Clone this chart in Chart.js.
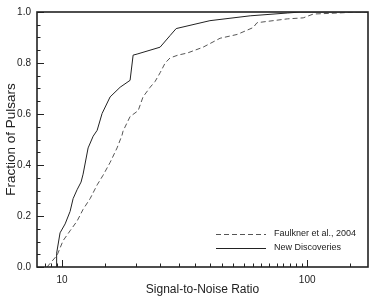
<!DOCTYPE html>
<html>
<head>
<meta charset="utf-8">
<script src="https://cdn.jsdelivr.net/npm/chart.js@4"></script>
<style>
  html, body { margin: 0; padding: 0; background: #fff; }
  #wrap { width: 382px; height: 305px; }
</style>
</head>
<body>
<div id="wrap"><canvas id="snrChart" width="382" height="305"></canvas></div>
<script>
// New Discoveries (solid)
let ndSnr  = [9.45, 9.5, 9.81, 10.29, 10.78, 11.09, 11.51, 11.95, 12.18, 12.77, 13.39, 13.9, 14.56, 15.7, 17.25, 18.94, 19.49, 20.23, 25.1, 27.6, 29.2, 40.1, 58.5, 82.9, 93.6, 177];
let ndFrac = [0, 0.054, 0.134, 0.169, 0.218, 0.268, 0.303, 0.333, 0.364, 0.467, 0.513, 0.536, 0.602, 0.667, 0.705, 0.732, 0.831, 0.835, 0.862, 0.908, 0.935, 0.966, 0.985, 0.996, 1.0, 1.0];

// Faulkner et al., 2004 (dashed)
let fkSnr  = [8.68, 9.54, 10.09, 10.78, 11.51, 12.18, 13.01, 13.9, 14.7, 15.7, 16.76, 17.56, 17.73, 18.94, 20.43, 21.39, 22.87, 23.97, 25.12, 26.33, 27.58, 29.73, 32.4, 37.6, 44.1, 51.8, 60.2, 62.4, 82.9, 96.3, 105.9, 132.8, 160, 177];
let fkFrac = [0, 0.046, 0.103, 0.142, 0.18, 0.226, 0.268, 0.322, 0.36, 0.41, 0.467, 0.517, 0.533, 0.59, 0.613, 0.667, 0.705, 0.728, 0.762, 0.80, 0.82, 0.831, 0.839, 0.862, 0.897, 0.912, 0.939, 0.958, 0.973, 0.977, 0.992, 0.996, 1.0, 1.0];

let xMajor = [10, 100];
let xMinor = [8.5, 9, 9.5, 15, 20, 25, 30, 35, 40, 45, 50, 55, 60, 65, 70, 75, 80, 85, 90, 95, 150];

const FONT = "'Liberation Sans', Arial, sans-serif";
const INK = '#222';

function pts(xs, ys) { return xs.map((x, i) => ({x: x, y: ys[i]})); }

// inward ticks, frame and legend
const decor = {
  id: 'decor',
  afterDatasetsDraw(chart) {
    const {ctx, chartArea: a, scales: {x, y}} = chart;
    ctx.save();
    ctx.strokeStyle = INK;
    ctx.lineWidth = 1;
    ctx.beginPath();
    xMajor.forEach(v => { const p = Math.round(x.getPixelForValue(v)) + 0.5; ctx.moveTo(p, a.bottom); ctx.lineTo(p, a.bottom - 7); });
    xMinor.forEach(v => { const p = Math.round(x.getPixelForValue(v)) + 0.5; ctx.moveTo(p, a.bottom); ctx.lineTo(p, a.bottom - 3.5); });
    for (let k = 0; k <= 20; k++) {
      const v = k * 0.05;
      const p = Math.round(y.getPixelForValue(v)) + 0.5;
      ctx.moveTo(a.left, p); ctx.lineTo(a.left + (k % 4 === 0 ? 7 : 3.5), p);
    }
    ctx.stroke();

    ctx.lineWidth = 1.6;
    ctx.strokeRect(a.left, a.top, a.right - a.left, a.bottom - a.top);

    // legend
    ctx.lineWidth = 1;
    ctx.strokeStyle = '#555';
    ctx.setLineDash([5, 3]);
    ctx.beginPath(); ctx.moveTo(216, 234.5); ctx.lineTo(266, 234.5); ctx.stroke();
    ctx.setLineDash([]);
    ctx.strokeStyle = '#222';
    ctx.beginPath(); ctx.moveTo(216, 248.5); ctx.lineTo(266, 248.5); ctx.stroke();
    ctx.fillStyle = INK;
    ctx.font = '9px ' + FONT;
    ctx.textBaseline = 'middle';
    ctx.fillText('Faulkner et al., 2004', 274, 234);
    ctx.fillText('New Discoveries', 274, 248);
    ctx.restore();
  }
};

var ctx = document.getElementById('snrChart').getContext('2d');
var snrChart = new Chart(ctx, {
  type: 'scatter',
  data: {
    datasets: [
      {
        label: 'Faulkner et al., 2004',
        data: pts(fkSnr, fkFrac),
        showLine: true,
        borderColor: '#555',
        borderWidth: 1,
        borderDash: [5, 3],
        pointRadius: 0,
        tension: 0
      },
      {
        label: 'New Discoveries',
        data: pts(ndSnr, ndFrac),
        showLine: true,
        borderColor: '#222',
        borderWidth: 1,
        pointRadius: 0,
        tension: 0
      }
    ]
  },
  options: {
    responsive: false,
    animation: false,
    layout: {padding: {top: 6, right: 14, left: 0, bottom: 0}},
    plugins: {legend: {display: false}, tooltip: {enabled: false}},
    scales: {
      x: {
        type: 'logarithmic',
        min: 7.9,
        max: 177,
        grid: {display: false, drawTicks: false},
        border: {display: false},
        afterBuildTicks: s => { s.ticks = xMajor.map(v => ({value: v})); },
        afterFit: s => { s.height = 38; },
        ticks: {
          padding: 7,
          color: INK,
          font: {family: FONT, size: 10},
          callback: v => String(v)
        },
        title: {
          display: true,
          text: 'Signal-to-Noise Ratio',
          color: INK,
          font: {family: FONT, size: 12},
          padding: {top: 0, bottom: 8}
        }
      },
      y: {
        min: 0,
        max: 1,
        grid: {display: false, drawTicks: false},
        border: {display: false},
        afterFit: s => { s.width = 37; },
        ticks: {
          stepSize: 0.2,
          padding: 6,
          color: INK,
          font: {family: FONT, size: 10},
          callback: v => v.toFixed(1)
        },
        title: {
          display: true,
          text: 'Fraction of Pulsars',
          color: INK,
          font: {family: FONT, size: 13.5},
          padding: {top: 3, bottom: 0}
        }
      }
    }
  },
  plugins: [decor]
});
</script>
</body>
</html>
